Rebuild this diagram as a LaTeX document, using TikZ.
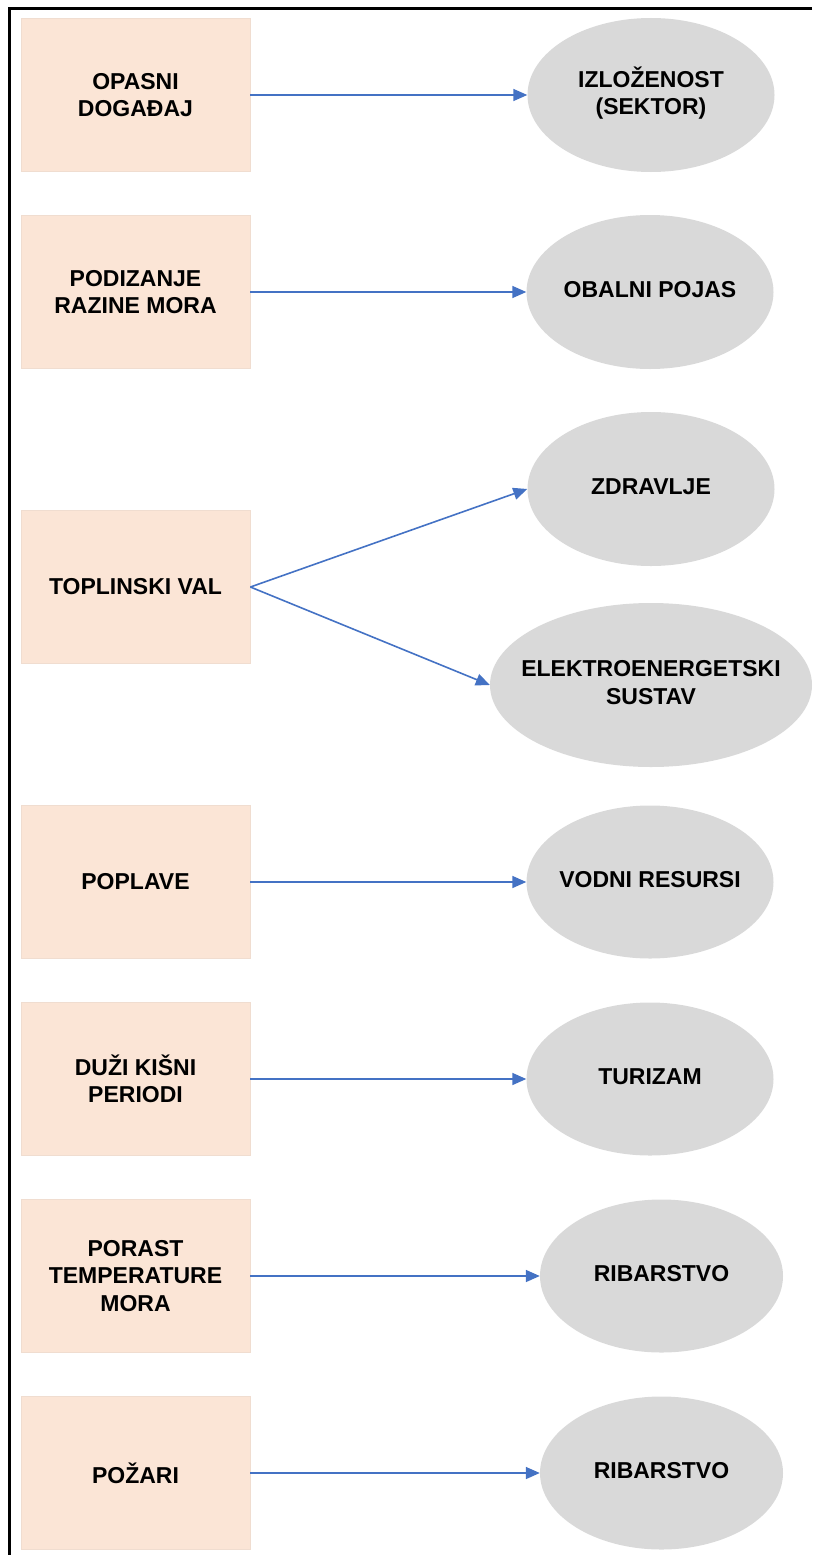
\documentclass[tikz,border=0pt]{standalone}
\usepackage{fontspec}
\setmainfont{Liberation Sans}
\usetikzlibrary{shapes.geometric,arrows.meta}
\definecolor{boxfill}{HTML}{FBE5D6}
\definecolor{boxline}{HTML}{F0DDD0}
\definecolor{ellfill}{HTML}{D9D9D9}
\definecolor{arrowblue}{HTML}{4472C4}
\newcommand\ztext[1]{\makebox[0pt]{\begin{tabular}{@{}c@{}}#1\end{tabular}}}
\tikzset{
  hazard/.style={rectangle, draw=boxline, line width=0.8pt, fill=boxfill, minimum width=229pt, minimum height=153pt, inner sep=0pt, align=center, font=\fontsize{23}{27.5}\selectfont\bfseries},
  sector/.style={ellipse, fill=ellfill, inner sep=0pt, font=\fontsize{23}{27.5}\selectfont\bfseries},
  link/.style={draw=arrowblue, line width=1.6pt, -{Triangle[length=14pt,width=12pt]}}
}
\begin{document}
\begin{tikzpicture}[x=1pt,y=-1pt]
\useasboundingbox (0,0) rectangle (812,1555);
\draw[line width=3pt] (812,8.5) -- (9.5,8.5) -- (9.5,1556);
% hazards
\node[hazard] (h1) at (135.5,95) {OPASNI\\DOGAĐAJ};
\node[hazard] (h2) at (135.5,292) {PODIZANJE\\RAZINE MORA};
\node[hazard] (h3) at (135.5,587) {TOPLINSKI VAL};
\node[hazard] (h4) at (135.5,882) {POPLAVE};
\node[hazard] (h5) at (135.5,1079) {DUŽI KIŠNI\\PERIODI};
\node[hazard] (h6) at (135.5,1276) {PORAST\\TEMPERATURE\\MORA};
\node[hazard] (h7) at (135.5,1473) {POŽARI};
% sectors
\node[sector, minimum width=247pt, minimum height=154pt] (s1) at (651,95) {\ztext{IZLOŽENOST\\(SEKTOR)}};
\node[sector, minimum width=247pt, minimum height=154pt] (s2) at (650,292) {\ztext{OBALNI POJAS}};
\node[sector, minimum width=247pt, minimum height=154pt] (s3) at (651,489) {\ztext{ZDRAVLJE}};
\node[sector, minimum width=322pt, minimum height=164pt] (s4) at (651,685) {\ztext{ELEKTROENERGETSKI\\SUSTAV}};
\node[sector, minimum width=247pt, minimum height=153pt] (s5) at (650,882) {\ztext{VODNI RESURSI}};
\node[sector, minimum width=247pt, minimum height=153pt] (s6) at (650,1079) {\ztext{TURIZAM}};
\node[sector, minimum width=243pt, minimum height=153pt] (s7) at (661.5,1276) {\ztext{RIBARSTVO}};
\node[sector, minimum width=243pt, minimum height=153pt] (s8) at (661.5,1473) {\ztext{RIBARSTVO}};
% links
\draw[link] (h1.east) -- (s1.west);
\draw[link] (h2.east) -- (s2.west);
\draw[link] (h3.east) -- (s3.west);
\draw[link] (h3.east) -- (s4.west);
\draw[link] (h4.east) -- (s5.west);
\draw[link] (h5.east) -- (s6.west);
\draw[link] (h6.east) -- (s7.west);
\draw[link] (h7.east) -- (s8.west);
\end{tikzpicture}
\end{document}
